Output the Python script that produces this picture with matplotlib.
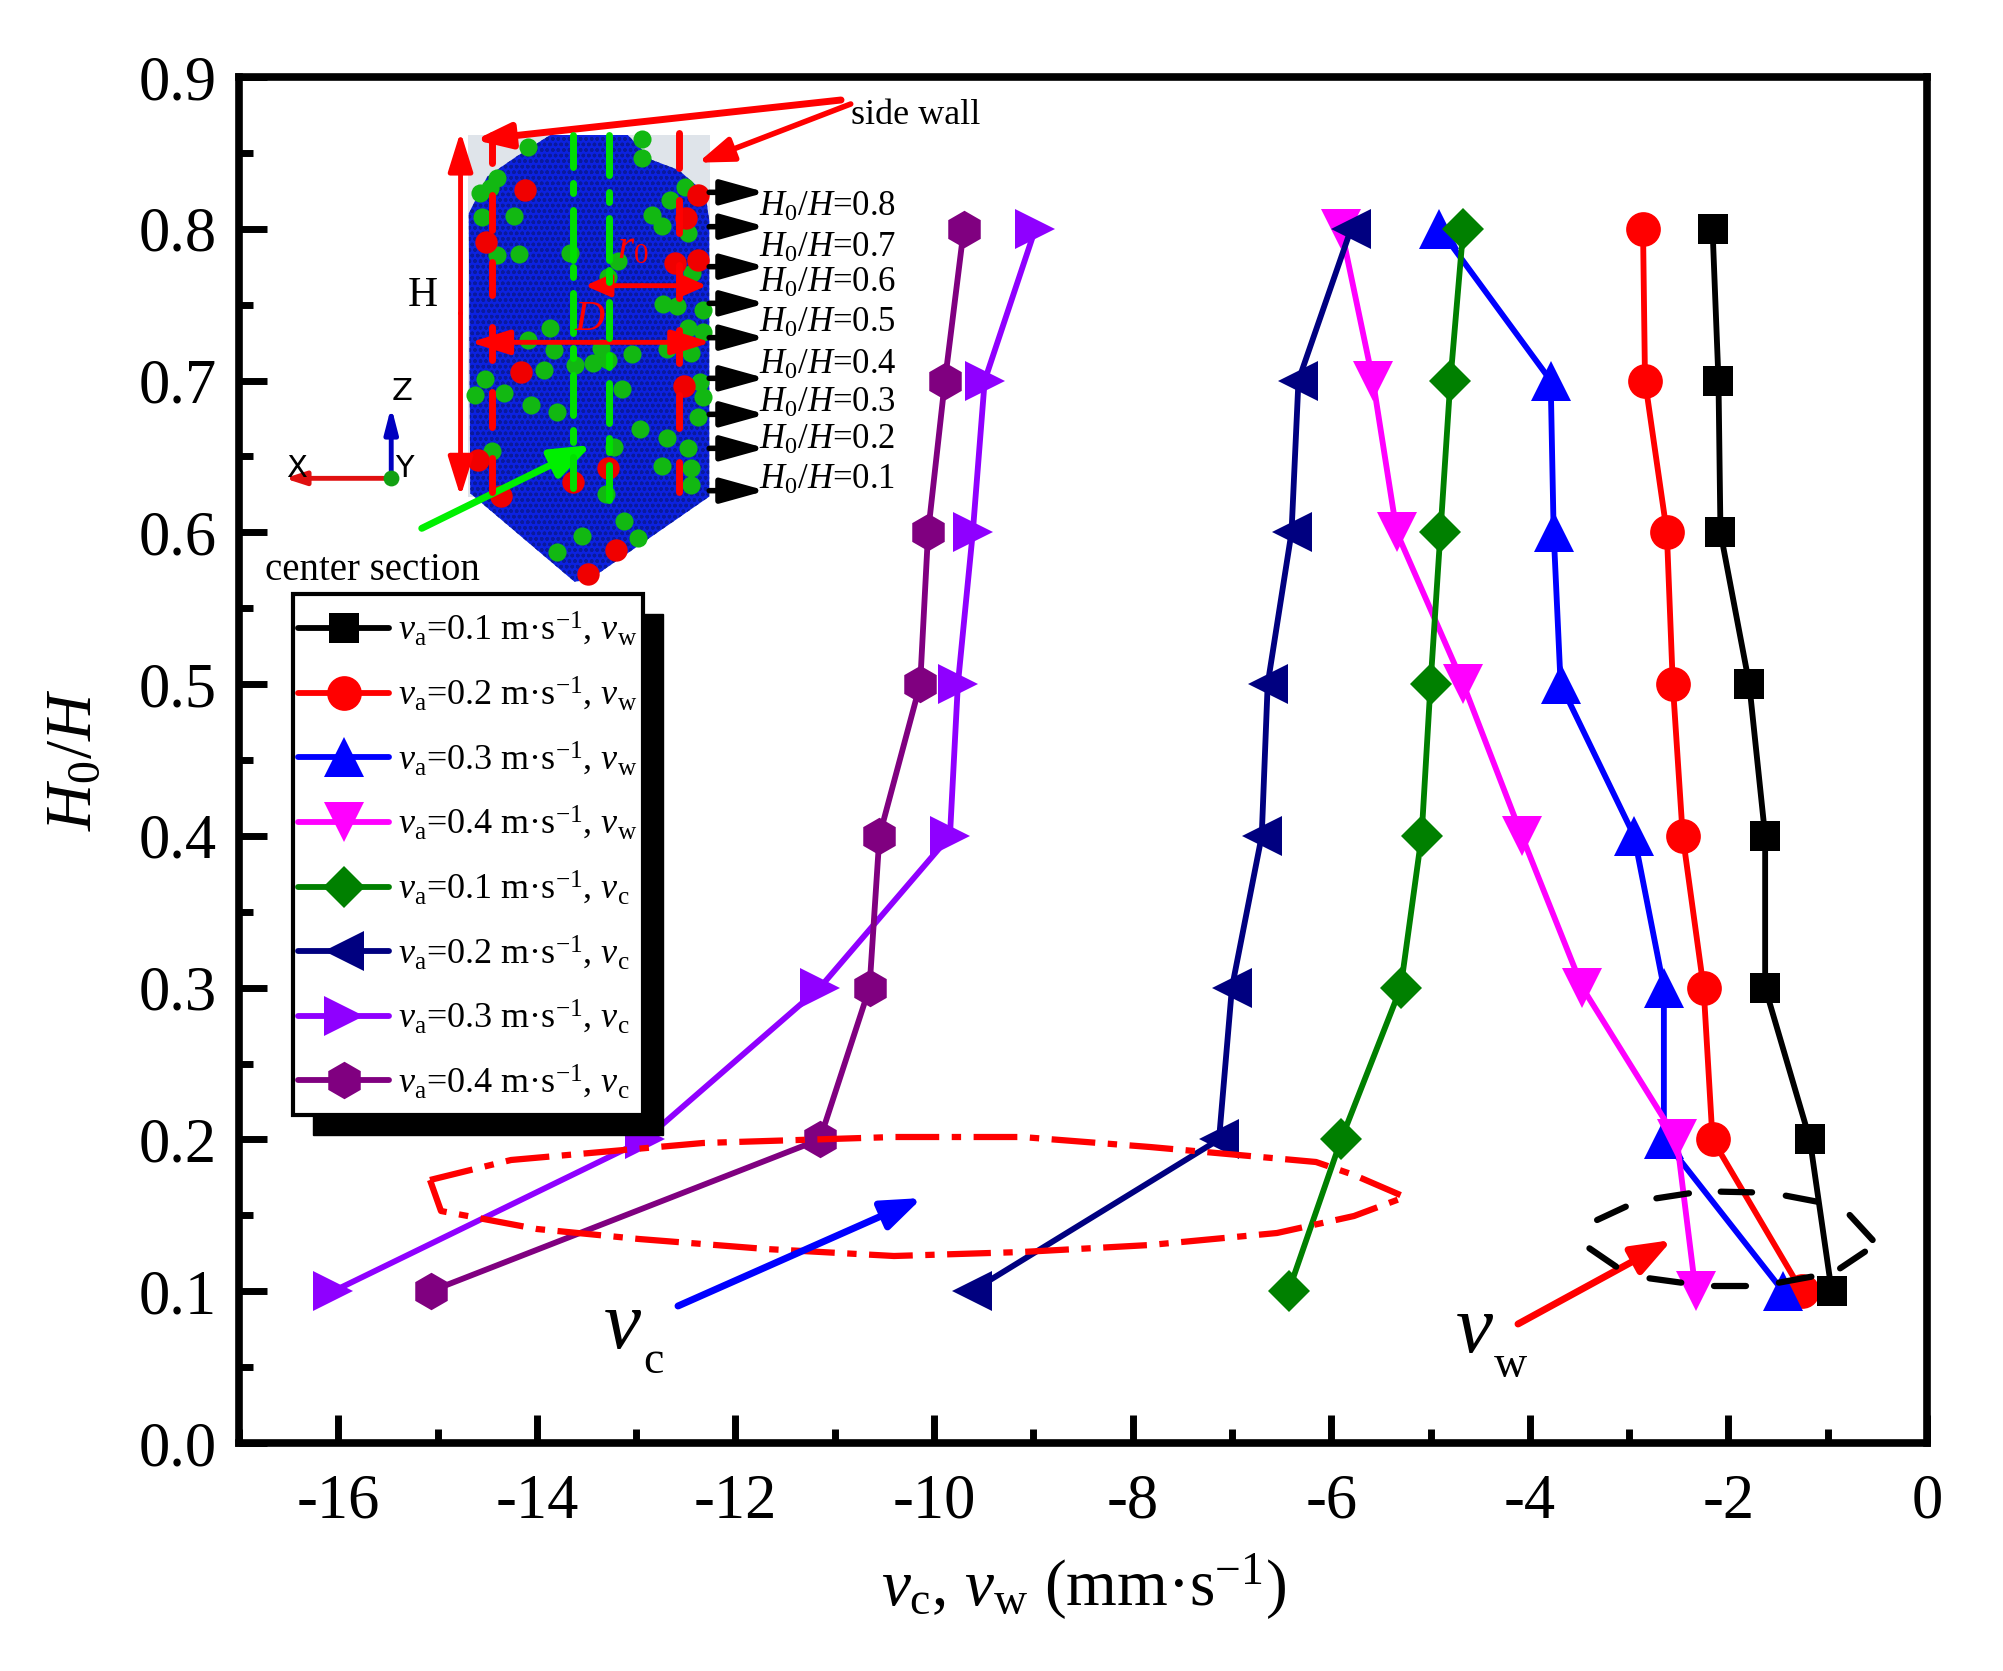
import matplotlib
matplotlib.use("Agg")
import matplotlib.pyplot as plt
from matplotlib.patches import Polygon, Rectangle
from matplotlib.transforms import IdentityTransform

plt.rcParams['font.family'] = ['Liberation Serif', 'DejaVu Serif']
plt.rcParams['mathtext.fontset'] = 'custom'
plt.rcParams['mathtext.rm'] = 'Liberation Serif'
plt.rcParams['mathtext.it'] = 'Liberation Serif:italic'
plt.rcParams['mathtext.bf'] = 'Liberation Serif:bold'
plt.rcParams['hatch.linewidth'] = 1.0

# ------------------------------------------------------------
# values
h_ratio = [0.8, 0.7, 0.6, 0.5, 0.4, 0.3, 0.2, 0.1]

vw_01 = [-2.16, -2.10, -2.08, -1.79, -1.63, -1.63, -1.18, -0.96]
vw_02 = [-2.86, -2.84, -2.62, -2.56, -2.46, -2.25, -2.16, -1.26]
vw_03 = [-4.91, -3.79, -3.76, -3.69, -2.95, -2.65, -2.65, -1.45]
vw_04 = [-5.90, -5.58, -5.34, -4.67, -4.08, -3.47, -2.52, -2.33]
vc_01 = [-4.67, -4.80, -4.90, -5.00, -5.09, -5.30, -5.90, -6.43]
vc_02 = [-5.80, -6.33, -6.40, -6.64, -6.70, -7.00, -7.13, -9.62]
vc_03 = [-8.98, -9.49, -9.61, -9.76, -9.84, -11.15, -12.91, -16.05]
vc_04 = [-9.70, -9.89, -10.06, -10.14, -10.55, -10.65, -11.15, -15.07]

x_ticks = list(range(-16, 1, 2))
x_minor = list(range(-17, 0, 2))
y_ticks = [0.0, 0.1, 0.2, 0.3, 0.4, 0.5, 0.6, 0.7, 0.8, 0.9]
y_minor = [0.05, 0.15, 0.25, 0.35, 0.45, 0.55, 0.65, 0.75, 0.85]

# ------------------------------------------------------------
W, H = 2003, 1671
fig = plt.figure(figsize=(W / 100, H / 100), dpi=100)
ax = fig.add_axes([239 / W, 1 - 1443 / H, (1927 - 239) / W, (1443 - 77) / H])

series = [
    (vw_01, 's', 'black', 22, 0.1, 'w', 2.5),
    (vw_02, 'o', 'red', 25, 0.2, 'w', 2.2),
    (vw_03, '^', 'blue', 29, 0.3, 'w', 2.6),
    (vw_04, 'v', 'magenta', 29, 0.4, 'w', 2.7),
    (vc_01, 'D', 'green', 21, 0.1, 'c', 2.8),
    (vc_02, '<', 'navy', 29, 0.2, 'c', 2.9),
    (vc_03, '>', '#8f00ff', 29, 0.3, 'c', 3.0),
    (vc_04, 'h', 'purple', 27, 0.4, 'c', 3.1),
]
for vals, mk, col, ms, va, sub, z in series:
    label = r'$v_{\mathrm{a}}$=%.1f m·s$^{-1}$, $v_{\mathrm{%s}}\ $' % (va, sub)
    ax.plot(vals, h_ratio, marker=mk, color=col, ms=ms, lw=4.2, mew=0,
            label=label, zorder=z, solid_capstyle='round')

ax.set_xlim(-17, 0)
ax.set_ylim(0, 0.9)
ax.set_xticks(x_ticks)
ax.set_xticks(x_minor, minor=True)
ax.set_yticks(y_ticks)
ax.set_yticks(y_minor, minor=True)
ax.set_yticklabels(['%.1f' % v for v in y_ticks])
ax.set_xticklabels([str(v) for v in x_ticks])
ax.tick_params(which='major', direction='in', length=20, width=5, labelsize=45)
ax.tick_params(axis='x', which='major', pad=22)
ax.tick_params(axis='y', which='major', pad=16)
ax.tick_params(which='minor', direction='in', length=10, width=5)
for s in ax.spines.values():
    s.set_linewidth(5.5)
ax.set_xlabel(r'$v_{\mathrm{c}}$, $v_{\mathrm{w}}$ (mm·s$^{-1}$)', fontsize=47, labelpad=14)
ax.set_ylabel(r'$H_{\mathrm{0}}/H$', fontsize=47, labelpad=24)

leg = ax.legend(loc='upper left', bbox_to_anchor=(293 / W, 1 - 594 / H),
                bbox_transform=fig.transFigure, fontsize=26, borderaxespad=0,
                fancybox=False, framealpha=1, edgecolor='black', borderpad=0.15,
                labelspacing=0.18, handleheight=2.1, handlelength=2.5, handletextpad=0.27)
leg.get_frame().set_linewidth(3)
leg.set_zorder(6)
# the taller handle boxes sit too high against the text, bring the lines back down
for h in leg.legend_handles:
    h.set_ydata([y - 6 for y in h.get_ydata()])

# shadow of the legend box, offset from its real position
fig.canvas.draw()
bb = leg.get_frame().get_window_extent()
ax.add_patch(Rectangle((bb.x0 + 20, bb.y0 - 20), bb.width, bb.height, transform=IdentityTransform(),
                       facecolor='black', edgecolor='black', zorder=5, clip_on=False))

# ------------------------------------------------------------
# overlay in pixels of the whole picture, for the hand drawn marks
ov = fig.add_axes([0, 0, 1, 1], facecolor='none')
ov.set_xlim(0, W)
ov.set_ylim(H, 0)
ov.axis('off')

def arrow(a, p0, p1, col, lw, head=(0.8, 0.25)):
    style = '-|>,head_length=%.2f,head_width=%.2f' % head
    a.annotate('', xy=p1, xytext=p0,
               arrowprops=dict(arrowstyle=style, color=col, lw=lw, shrinkA=0, shrinkB=0,
                               mutation_scale=30, capstyle='round'))

# red dash-dot ring around the two lower points
ring_x = [430, 511, 703, 894, 1022, 1150, 1316, 1354, 1405, 1354, 1277, 1150, 1022, 894, 766, 639, 537, 441, 430]
ring_y = [1180, 1160, 1143, 1137, 1137, 1147, 1162, 1175, 1197, 1216, 1233, 1245, 1252, 1256, 1249, 1239, 1229, 1211, 1180]
ov.plot(ring_x, ring_y, color='red', lw=4.5, dashes=(7, 2, 1.5, 2))

# black dashes around the upper wall points
dash_segments = [((515, 360), (590, 320)), ((670, 295), (755, 280)), ((838, 275), (920, 277)),
                 ((1008, 287), (1090, 305)), ((1175, 345), (1235, 420)), ((1215, 455), (1150, 505)),
                 ((1075, 530), (990, 548)), ((905, 558), (820, 558)), ((735, 548), (652, 535)),
                 ((565, 500), (495, 445))]
for p0, p1 in dash_segments:
    ov.plot([1400 + p0[0] / 2.613, 1400 + p1[0] / 2.613], [1100 + p0[1] / 3, 1100 + p1[1] / 3],
            color='black', lw=4.5, solid_capstyle='round', zorder=5)

arrow(ov, (678, 1306), (922, 1198), 'blue', 5, (0.8, 0.3))
arrow(ov, (1518, 1324), (1672, 1240), 'red', 5, (0.8, 0.3))
ov.text(604, 1348, 'v', fontsize=60, style='italic', va='baseline')
ov.text(643, 1373, 'c', fontsize=33, va='baseline')
ov.text(1456, 1352, 'v', fontsize=60, style='italic', va='baseline')
ov.text(1494, 1377, 'w', fontsize=33, va='baseline')

# ------------------------------------------------------------
# particle bed picture, in coordinates of a crop of the top left corner
ins = fig.add_axes([240 / W, 1 - 600 / H, 760 / W, 520 / H], facecolor='none')
ins.set_xlim(0, 1568)
ins.set_ylim(1560, 0)
ins.axis('off')

ins.add_patch(Rectangle((470, 165), 500, 1085, facecolor='#dfe4ea', edgecolor='none'))
bed_outline = [(640, 165), (800, 165), (850, 240), (905, 270), (960, 340), (968, 420), (968, 1250),
               (720, 1500), (690, 1505), (475, 1240), (472, 400), (510, 290), (570, 230)]
ins.add_patch(Polygon(bed_outline, closed=True, facecolor='#0c22e0', edgecolor='#0a1a9c', hatch='ooo', lw=0))

green_x = [530, 515, 495, 500, 565, 530, 575, 680, 780, 760, 830, 830, 595, 918, 888, 850, 870, 925, 932, 872,
           902, 955, 925, 955, 640, 595, 648, 745, 808, 880, 930, 692, 728, 760, 628, 505, 950, 485, 545, 788,
           955, 600, 655, 945, 826, 880, 520, 772, 925, 870, 930, 930, 756, 793, 705, 822, 655]
green_y = [295, 325, 340, 410, 408, 525, 522, 520, 543, 590, 235, 178, 200, 320, 360, 405, 438, 460, 580, 672,
           677, 690, 745, 755, 745, 780, 810, 805, 822, 808, 820, 855, 850, 840, 870, 897, 905, 945, 940, 928,
           950, 975, 995, 1010, 1048, 1073, 1113, 1100, 1105, 1158, 1165, 1215, 1243, 1322, 1368, 1375, 1415]
red_x = [588, 945, 508, 898, 945, 580, 917, 490, 538, 687, 760, 775, 718, 920]
red_y = [330, 345, 487, 548, 540, 875, 918, 1140, 1248, 1205, 1165, 1410, 1482, 415]
ins.scatter(green_x, green_y, s=170, color='#12b812', lw=0, zorder=3)
ins.scatter(red_x, red_y, s=260, color='#f00000', lw=0, zorder=3)

green_dash_a = [(165, 260), (310, 340), (390, 540), (560, 590), (640, 760), (805, 835), (885, 1005), (1050, 1085), (1130, 1225)]
green_dash_b = [(165, 285), (335, 365), (415, 540), (570, 605), (665, 775), (825, 860), (910, 1030), (1075, 1115), (1155, 1260)]
red_dash_a = [(165, 250), (345, 450), (545, 645), (740, 840), (935, 1040), (1135, 1235)]
red_dash_b = [(160, 265), (360, 460), (555, 655), (750, 850), (945, 1045), (1145, 1235)]
for x, segs, col in [(687, green_dash_a, '#00e000'), (761, green_dash_b, '#00e000'),
                     (519, red_dash_a, 'red'), (905, red_dash_b, 'red')]:
    for y0, y1 in segs:
        ins.plot([x, x], [y0, y1], color=col, lw=5, zorder=4, solid_capstyle='round')

# double headed red arrows
for p0, p1 in [((455, 700), (455, 155)), ((455, 700), (455, 1250)), ((720, 787), (475, 787)), ((720, 787), (972, 787))]:
    arrow(ins, p0, p1, 'red', 3.5, (0.8, 0.25))
arrow(ins, (830, 617), (712, 617), 'red', 3.5, (0.5, 0.22))
arrow(ins, (830, 617), (963, 617), 'red', 3.5, (0.5, 0.22))
arrow(ins, (1240, 60), (485, 180), 'red', 5, (0.7, 0.25))
arrow(ins, (1260, 72), (945, 248), 'red', 4, (0.7, 0.25))
arrow(ins, (375, 1345), (725, 1095), '#00f000', 5, (0.8, 0.3))
arrow(ins, (312, 1195), (312, 980), '#0000c0', 3.5, (0.5, 0.13))
arrow(ins, (312, 1195), (92, 1195), '#e01010', 3.5, (0.4, 0.13))
ins.scatter([312], [1195], s=130, color='#12a012', lw=0, zorder=5)

wall_arrow_y = [337, 440, 560, 670, 773, 895, 1003, 1105, 1232]
for y in wall_arrow_y:
    arrow(ins, (968, y), (1085, y), 'black', 4, (0.9, 0.25))

section_labels = [0.8, 0.7, 0.6, 0.5, 0.4, 0.3, 0.2, 0.1]
section_y = [381, 506, 611, 731, 856, 971, 1081, 1201]
for v, y in zip(section_labels, section_y):
    ins.text(1070, y, r'$H_{\mathrm{0}}/H$=%.1f' % v, fontsize=25, va='center', ha='left')

ins.text(1260, 105, 'side wall', fontsize=26, va='center')
ins.text(52, 1472, 'center section', fontsize=28, va='center')
ins.text(377, 648, 'H', fontsize=30, va='center', ha='center')
ins.text(117, 1165, 'X', fontsize=22, va='center', ha='center', family='DejaVu Sans')
ins.text(340, 1165, 'Y', fontsize=22, va='center', ha='center', family='DejaVu Sans')
ins.text(335, 935, 'Z', fontsize=22, va='center', ha='center', family='DejaVu Sans')
ins.text(810, 505, r'$r_{\mathrm{0}}$', fontsize=30, color='red', va='center', ha='center', zorder=6)
ins.text(723, 720, r'$D$', fontsize=30, color='red', va='center', ha='center', zorder=6)

fig.savefig('out.png', dpi=100)
